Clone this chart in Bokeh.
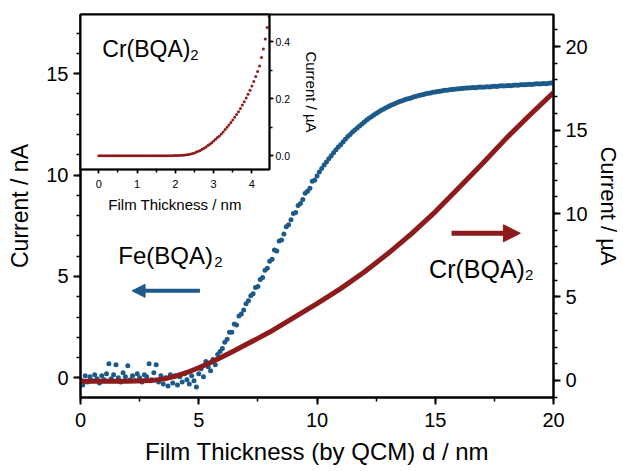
from bokeh.plotting import figure
from bokeh.models import (Range1d, LinearAxis, SingleIntervalTicker, Label, Arrow,
                          NormalHead, PrintfTickFormatter)
from bokeh.layouts import column
from bokeh.embed import file_html
from bokeh.resources import INLINE

# ---------------- data ----------------
# Fe(BQA)2 current (nA) vs film thickness (nm)
fe_x = [
    0.0, 0.1, 0.2, 0.3, 0.4, 0.5, 0.6, 0.7, 0.8, 0.9,
    1.0, 1.1, 1.2, 1.3, 1.4, 1.5, 1.6, 1.7, 1.8, 1.9,
    2.0, 2.1, 2.2, 2.3, 2.4, 2.5, 2.6, 2.7, 2.8, 2.9,
    3.0, 3.1, 3.2, 3.3, 3.4, 3.5, 3.6, 3.7, 3.8, 3.9,
    4.0, 4.1, 4.2, 4.3, 4.4, 4.5, 4.6, 4.7, 4.8, 4.9,
    5.0, 5.1, 5.2, 5.3, 5.4, 5.5, 5.6, 5.7, 5.8, 5.9,
    6.0, 6.1, 6.2, 6.3, 6.4, 6.5, 6.6, 6.7, 6.8, 6.9,
    7.0, 7.1, 7.2, 7.3, 7.4, 7.5, 7.6, 7.7, 7.8, 7.9,
    8.0, 8.1, 8.2, 8.3, 8.4, 8.5, 8.6, 8.7, 8.8, 8.9,
    9.0, 9.1, 9.2, 9.3, 9.4, 9.5, 9.6, 9.7, 9.8, 9.9,
    10.0, 10.1, 10.2, 10.3, 10.4, 10.5, 10.6, 10.7, 10.8, 10.9,
    11.0, 11.1, 11.2, 11.3, 11.4, 11.5, 11.6, 11.7, 11.8, 11.9,
    12.0, 12.1, 12.2, 12.3, 12.4, 12.5, 12.6, 12.7, 12.8, 12.9,
    13.0, 13.1, 13.2, 13.3, 13.4, 13.5, 13.6, 13.7, 13.8, 13.9,
    14.0, 14.1, 14.2, 14.3, 14.4, 14.5, 14.6, 14.7, 14.8, 14.9,
    15.0, 15.1, 15.2, 15.3, 15.4, 15.5, 15.6, 15.7, 15.8, 15.9,
    16.0, 16.1, 16.2, 16.3, 16.4, 16.5, 16.6, 16.7, 16.8, 16.9,
    17.0, 17.1, 17.2, 17.3, 17.4, 17.5, 17.6, 17.7, 17.8, 17.9,
    18.0, 18.1, 18.2, 18.3, 18.4, 18.5, 18.6, 18.7, 18.8, 18.9,
    19.0, 19.1, 19.2, 19.3, 19.4, 19.5, 19.6, 19.7, 19.8, 19.9,
    20.0,
]
fe_nA = [
    -0.10, -0.35, 0.10, -0.20, 0.05, -0.15, 0.15, -0.05, -0.25, 0.10,
    -0.10, 0.20, 0.70, -0.05, 0.15, 0.65, 0.00, -0.20, 0.25, 0.05,
    0.60, -0.10, 0.10, -0.15, 0.20, 0.00, -0.20, 0.15, 0.05, 0.70,
    -0.10, 0.25, 0.65, -0.20, 0.10, -0.30, 0.00, -0.40, 0.15, -0.25,
    0.10, -0.35, 0.05, -0.20, 0.20, -0.10, -0.30, 0.10, -0.15, -0.45,
    0.20, 0.45, 0.05, 0.80, 0.55, 0.35, 0.90, 0.65, 1.15, 1.30,
    1.45, 1.75, 1.90, 2.25, 2.25, 2.65, 2.60, 3.05, 3.15, 3.35,
    3.65, 3.80, 4.05, 4.15, 4.45, 4.50, 4.85, 4.95, 5.30, 5.40,
    5.75, 5.85, 6.30, 6.25, 6.75, 6.80, 7.10, 7.45, 7.55, 7.80,
    8.10, 8.15, 8.50, 8.60, 8.80, 9.10, 9.20, 9.35, 9.70, 9.75,
    9.95, 10.15, 10.32, 10.50, 10.65, 10.80, 10.95, 11.10, 11.25, 11.38,
    11.50, 11.63, 11.77, 11.90, 12.00, 12.12, 12.22, 12.32, 12.42, 12.52,
    12.62, 12.72, 12.80, 12.88, 12.96, 13.04, 13.11, 13.18, 13.25, 13.31,
    13.37, 13.43, 13.48, 13.53, 13.58, 13.63, 13.67, 13.71, 13.75, 13.78,
    13.82, 13.86, 13.89, 13.92, 13.95, 13.98, 14.01, 14.03, 14.05, 14.08,
    14.10, 14.12, 14.14, 14.16, 14.18, 14.19, 14.21, 14.22, 14.23, 14.25,
    14.26, 14.27, 14.28, 14.30, 14.29, 14.31, 14.32, 14.31, 14.33, 14.34,
    14.33, 14.35, 14.36, 14.35, 14.37, 14.38, 14.37, 14.39, 14.40, 14.39,
    14.41, 14.42, 14.41, 14.43, 14.44, 14.43, 14.45, 14.46, 14.45, 14.47,
    14.48, 14.47, 14.49, 14.50, 14.49, 14.51, 14.52, 14.51, 14.53, 14.54,
    14.56,
]

# Cr(BQA)2 current (uA) vs film thickness (nm), main panel
cr_x = [0, 1, 2, 3, 3.5, 4, 4.5, 5, 5.5, 6, 6.5, 7, 7.5, 8, 9, 10, 11, 12, 13,
        14, 15, 16, 17, 18, 19, 20]
cr_uA = [-0.05, -0.05, -0.04, 0.0, 0.08, 0.25, 0.48, 0.76, 1.08, 1.42, 1.78,
         2.15, 2.52, 2.9, 3.75, 4.6, 5.5, 6.5, 7.6, 8.8, 10.1, 11.55, 13.0,
         14.5, 15.9, 17.25]

# Cr(BQA)2 inset: current (uA) vs film thickness (nm)
ins_x = [
    0.00, 0.05, 0.10, 0.15, 0.20, 0.25, 0.30, 0.35, 0.40, 0.45,
    0.50, 0.55, 0.60, 0.65, 0.70, 0.75, 0.80, 0.85, 0.90, 0.95,
    1.00, 1.05, 1.10, 1.15, 1.20, 1.25, 1.30, 1.35, 1.40, 1.45,
    1.50, 1.55, 1.60, 1.65, 1.70, 1.75, 1.80, 1.85, 1.90, 1.95,
    2.00, 2.05, 2.10, 2.15, 2.20, 2.25, 2.30, 2.35, 2.40, 2.45,
    2.50, 2.55, 2.60, 2.65, 2.70, 2.75, 2.80, 2.85, 2.90, 2.95,
    3.00, 3.05, 3.10, 3.15, 3.20, 3.25, 3.30, 3.35, 3.40, 3.45,
    3.50, 3.55, 3.60, 3.65, 3.70, 3.75, 3.80, 3.85, 3.90, 3.95,
    4.00, 4.05, 4.10, 4.15, 4.20, 4.25, 4.30, 4.35, 4.40, 4.45,
]
ins_uA = [
    0.000, 0.000, 0.000, 0.000, 0.000, 0.000, 0.000, 0.000, 0.000, 0.000,
    0.000, 0.000, 0.000, 0.000, 0.000, 0.000, 0.000, 0.000, 0.000, 0.000,
    0.000, 0.000, 0.000, 0.000, 0.000, 0.000, 0.000, 0.000, 0.000, 0.000,
    0.000, 0.000, 0.000, 0.000, 0.000, 0.000, 0.000, 0.000, 0.000, 0.001,
    0.001, 0.001, 0.001, 0.002, 0.002, 0.003, 0.004, 0.005, 0.006, 0.008,
    0.010, 0.013, 0.016, 0.019, 0.023, 0.027, 0.031, 0.036, 0.041, 0.046,
    0.052, 0.058, 0.064, 0.070, 0.077, 0.084, 0.092, 0.100, 0.108, 0.117,
    0.126, 0.135, 0.145, 0.155, 0.166, 0.178, 0.190, 0.203, 0.216, 0.230,
    0.245, 0.261, 0.278, 0.296, 0.315, 0.345, 0.375, 0.410, 0.450, 0.490,
]

FONT = "Liberation Sans"
BLUE = "#1c5a8a"
RED = "#8e1b1b"


def style_axis(ax, tick_fs, label_fs, tick_out, minor_out, lw=2):
    ax.axis_line_width = lw
    ax.axis_line_color = "black"
    ax.major_tick_line_width = lw
    ax.minor_tick_line_width = 1.5
    ax.major_tick_in = 0
    ax.minor_tick_in = 0
    ax.major_tick_out = tick_out
    ax.minor_tick_out = minor_out
    ax.major_label_text_font = FONT
    ax.major_label_text_font_size = tick_fs
    ax.major_label_text_color = "black"
    ax.axis_label_text_font = FONT
    ax.axis_label_text_font_size = label_fs
    ax.axis_label_text_font_style = "normal"
    ax.axis_label_text_color = "black"


# ---------------- main figure ----------------
p = figure(width=623, height=471, output_backend="svg", toolbar_location=None,
           x_range=Range1d(0, 20), y_range=Range1d(-0.97, 17.92),
           min_border_left=80, min_border_right=67, min_border_top=14,
           min_border_bottom=74)
p.extra_y_ranges = {"ua": Range1d(-1.02, 21.92)}
p.grid.visible = False
p.outline_line_color = "black"
p.outline_line_width = 2
p.background_fill_color = "white"
p.border_fill_color = "white"

p.xaxis.ticker = SingleIntervalTicker(interval=5, num_minor_ticks=2)
p.yaxis.ticker = SingleIntervalTicker(interval=5, num_minor_ticks=5)
p.xaxis.axis_label = "Film Thickness (by QCM) d / nm"
p.yaxis.axis_label = "Current / nA"
style_axis(p.xaxis[0], "20px", "24px", 7, 4)
style_axis(p.yaxis[0], "20px", "23px", 7, 4)
p.xaxis.major_label_standoff = 8
p.xaxis.axis_label_standoff = 8
p.yaxis.major_label_standoff = 5
p.yaxis.axis_label_standoff = 10

ax_r = LinearAxis(y_range_name="ua", axis_label="Current / µA",
                  ticker=SingleIntervalTicker(interval=5, num_minor_ticks=5))
style_axis(ax_r, "20px", "22px", 7, 4)
ax_r.major_label_standoff = 5
ax_r.axis_label_standoff = 5
p.add_layout(ax_r, "right")

p.scatter(fe_x, fe_nA, size=5, color=BLUE, line_color=None)
p.line(cr_x, cr_uA, line_width=5, color=RED, y_range_name="ua")

# annotations
p.add_layout(Label(x=1.6, y=5.61, y_offset=9, text="Fe(BQA)", text_font=FONT,
                   text_font_size="24px", text_color="black",
                   text_baseline="alphabetic"))
p.add_layout(Label(x=1.6, y=5.61, x_offset=96, y_offset=2, text="2",
                   text_font=FONT, text_font_size="15px", text_color="black",
                   text_baseline="alphabetic"))
p.add_layout(Label(x=14.74, y=4.9, y_offset=9, text="Cr(BQA)", text_font=FONT,
                   text_font_size="25px", text_color="black",
                   text_baseline="alphabetic"))
p.add_layout(Label(x=14.74, y=4.9, x_offset=96, y_offset=3, text="2",
                   text_font=FONT, text_font_size="15px", text_color="black",
                   text_baseline="alphabetic"))
p.add_layout(Arrow(end=NormalHead(size=13, fill_color=BLUE, line_color=BLUE),
                   x_start=5.05, y_start=4.29, x_end=2.18, y_end=4.29,
                   line_color=BLUE, line_width=4))
p.add_layout(Arrow(end=NormalHead(size=17, fill_color=RED, line_color=RED),
                   x_start=15.69, y_start=7.13, x_end=18.6, y_end=7.13,
                   line_color=RED, line_width=5))

# ---------------- inset ----------------
ins = figure(width=339, height=206, output_backend="svg", toolbar_location=None,
             x_range=Range1d(-0.48, 4.46), y_range=Range1d(-0.048, 0.496),
             y_axis_location="right", min_border_left=80, min_border_top=1,
             min_border_right=67, min_border_bottom=50)
ins.margin = (-458, 0, 0, 0)
ins.grid.visible = False
ins.border_fill_alpha = 0
ins.background_fill_color = "white"
ins.outline_line_color = "black"
ins.outline_line_width = 2
ins.xaxis.ticker = SingleIntervalTicker(interval=1, num_minor_ticks=2)
ins.yaxis.ticker = SingleIntervalTicker(interval=0.2, num_minor_ticks=2)
ins.yaxis.formatter = PrintfTickFormatter(format="%.1f")
ins.xaxis.axis_label = "Film Thickness / nm"
ins.yaxis.axis_label = "Current / µA"
style_axis(ins.xaxis[0], "11px", "15px", 4, 3, lw=1.5)
style_axis(ins.yaxis[0], "10.5px", "15px", 4, 3, lw=1.5)
ins.xaxis.major_label_standoff = 6
ins.xaxis.axis_label_standoff = 5
ins.yaxis.major_label_standoff = 2
ins.yaxis.axis_label_standoff = 10

ins.scatter(ins_x, ins_uA, size=3, color=RED, line_color=None)
ins.add_layout(Label(x=0.09, y=0.343, y_offset=9, text="Cr(BQA)",
                     text_font=FONT, text_font_size="23px", text_color="black",
                     text_baseline="alphabetic"))
ins.add_layout(Label(x=0.09, y=0.343, x_offset=88, y_offset=3, text="2",
                     text_font=FONT, text_font_size="15px", text_color="black",
                     text_baseline="alphabetic"))

layout = column(p, ins)
open("out.html", "w").write(file_html(layout, INLINE))
